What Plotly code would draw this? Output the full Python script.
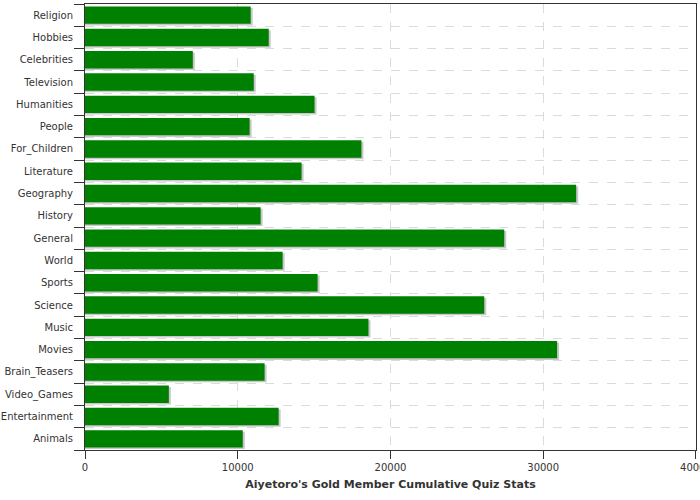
import plotly.graph_objects as go

categories = ["Animals", "Entertainment", "Video_Games", "Brain_Teasers", "Movies", "Music",
              "Science", "Sports", "World", "General", "History", "Geography", "Literature",
              "For_Children", "People", "Humanities", "Television", "Celebrities", "Hobbies", "Religion"]
values = [10330, 12680, 5490, 11760, 30910, 18560, 26140, 15230, 12940, 27450,
          11500, 32160, 14180, 18100, 10780, 15030, 11050, 7060, 12030, 10850]
x_ticks = [0, 10000, 20000, 30000, 40000]

shadow_dx = 130  # data units, ~2px
fig = go.Figure()
fig.add_trace(go.Bar(
    y=categories, x=[v + shadow_dx for v in values], orientation="h",
    marker=dict(color="#c8c8c8", line=dict(width=0)),
    width=0.78, offset=-0.39 - 0.07, hoverinfo="skip", showlegend=False))
fig.add_trace(go.Bar(
    y=categories, x=values, orientation="h",
    marker=dict(color="#008000", line=dict(width=0)),
    width=0.78, offset=-0.39, showlegend=False))

fig.update_layout(
    width=700, height=500,
    margin=dict(l=85, r=4, t=4, b=50),
    barmode="overlay",
    plot_bgcolor="white", paper_bgcolor="white",
    font=dict(family="DejaVu Sans", size=10, color="#333333"),
    xaxis=dict(
        range=[0, 40005], tickvals=x_ticks, ticktext=[str(t) for t in x_ticks],
        showgrid=True, gridcolor="#d8dcdf", griddash="dash", gridwidth=1,
        showline=True, linecolor="#333333", linewidth=1, mirror=True,
        ticks="outside", ticklen=8, tickcolor="#333333",
        zeroline=False, automargin=False, ticklabeloverflow="allow",
        title=dict(text="<b>Aiyetoro's Gold Member Cumulative Quiz Stats</b>",
                   font=dict(size=11, color="#333333"), standoff=8),
    ),
    yaxis=dict(
        type="category", categoryorder="array", categoryarray=categories,
        range=[-0.5, len(categories) - 0.5],
        tickson="boundaries", showgrid=True, gridcolor="#d8dcdf", griddash="dash",
        showline=True, linecolor="#333333", linewidth=1, mirror=True,
        ticks="outside", ticklen=10, tickcolor="#333333",
        ticklabelstandoff=9, automargin=False, ticklabeloverflow="allow",
        zeroline=False,
    ),
)

fig.write_html("out.html")
